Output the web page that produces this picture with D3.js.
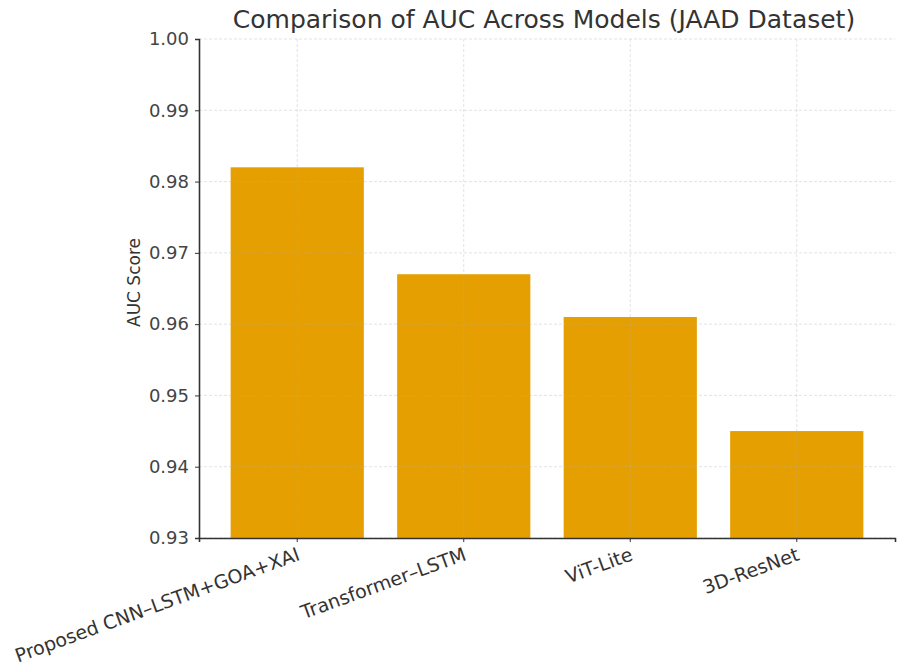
<!DOCTYPE html>
<html>
<head>
<meta charset="utf-8">
<script src="https://cdn.jsdelivr.net/npm/d3@7"></script>
<style>
  body { margin: 0; background: #fff; }
  svg text { font-family: "DejaVu Sans", sans-serif; }
</style>
</head>
<body>
<div id="chart"></div>
<script>
// chart data
const models = ["Proposed CNN–LSTM+GOA+XAI", "Transformer–LSTM", "ViT-Lite", "3D-ResNet"]
const aucScores = [0.982, 0.967, 0.961, 0.945]
const yTicks = [0.93, 0.94, 0.95, 0.96, 0.97, 0.98, 0.99, 1.00]

const dimensions = {
  width: 900,
  height: 671,
  margin: { top: 39, right: 5, bottom: 133, left: 199 },
}
dimensions.boundedWidth = dimensions.width - dimensions.margin.left - dimensions.margin.right
dimensions.boundedHeight = dimensions.height - dimensions.margin.top - dimensions.margin.bottom

const svg = d3.select("#chart")
  .append("svg")
    .attr("width", dimensions.width)
    .attr("height", dimensions.height)

const bounds = svg.append("g")
  .attr("transform", `translate(${dimensions.margin.left},${dimensions.margin.top})`)

// scales
const x = d3.scaleBand()
  .domain(models)
  .range([0, dimensions.boundedWidth])
  .paddingInner(0.2)
  .paddingOuter(0.19)

const y = d3.scaleLinear()
  .domain([0.93, 1.00])
  .range([dimensions.boundedHeight, 0])

// bars
bounds.selectAll("rect.bar")
  .data(models)
  .enter().append("rect")
    .attr("class", "bar")
    .attr("x", d => x(d))
    .attr("width", x.bandwidth())
    .attr("y", (d, i) => y(aucScores[i]))
    .attr("height", (d, i) => dimensions.boundedHeight - y(aucScores[i]))
    .attr("fill", "#e59f00")

// grid lines (drawn over the bars, faint)
const grid = bounds.append("g").attr("class", "grid")
grid.selectAll("line.h")
  .data(yTicks)
  .enter().append("line")
    .attr("x1", 0).attr("x2", dimensions.boundedWidth)
    .attr("y1", d => y(d)).attr("y2", d => y(d))
grid.selectAll("line.v")
  .data(models)
  .enter().append("line")
    .attr("x1", d => x(d) + x.bandwidth() / 2).attr("x2", d => x(d) + x.bandwidth() / 2)
    .attr("y1", 0).attr("y2", dimensions.boundedHeight)
grid.selectAll("line")
  .attr("stroke", "#b0b0b0")
  .attr("stroke-opacity", 0.45)
  .attr("stroke-dasharray", "3,2")
  .attr("stroke-width", 0.8)

// y axis
const yAxis = bounds.append("g")
  .call(d3.axisLeft(y)
    .tickValues(yTicks)
    .tickFormat(d3.format(".2f"))
    .tickSizeOuter(0)
    .tickSize(4)
    .tickPadding(6))
yAxis.select(".domain").attr("stroke", "#333").attr("stroke-width", 1.6)
yAxis.selectAll(".tick line").attr("stroke", "#333")
yAxis.selectAll(".tick text")
  .attr("fill", "#444")
  .style("font-size", "18px")

// x axis
const xAxis = bounds.append("g")
  .attr("transform", `translate(0,${dimensions.boundedHeight})`)
  .call(d3.axisBottom(x).tickSizeOuter(0).tickSize(4).tickPadding(6))
xAxis.select(".domain").attr("stroke", "#333").attr("stroke-width", 1.6)
xAxis.selectAll(".tick line").attr("stroke", "#333")
xAxis.selectAll(".tick text")
  .attr("fill", "#333")
  .style("font-size", "19px")
  .style("text-anchor", "end")
  .attr("dy", "0.35em")
  .attr("transform", "translate(-2,6) rotate(-20)")

// y label
svg.append("text")
  .attr("transform", `translate(140,${dimensions.margin.top + dimensions.boundedHeight / 2 - 6}) rotate(-90)`)
  .style("text-anchor", "middle")
  .style("font-size", "17px")
  .attr("fill", "#333")
  .text("AUC Score")

// title
svg.append("text")
  .attr("x", 544)
  .attr("y", 28)
  .style("text-anchor", "middle")
  .style("font-size", "25px")
  .attr("fill", "#333")
  .text("Comparison of AUC Across Models (JAAD Dataset)")
</script>
</body>
</html>
